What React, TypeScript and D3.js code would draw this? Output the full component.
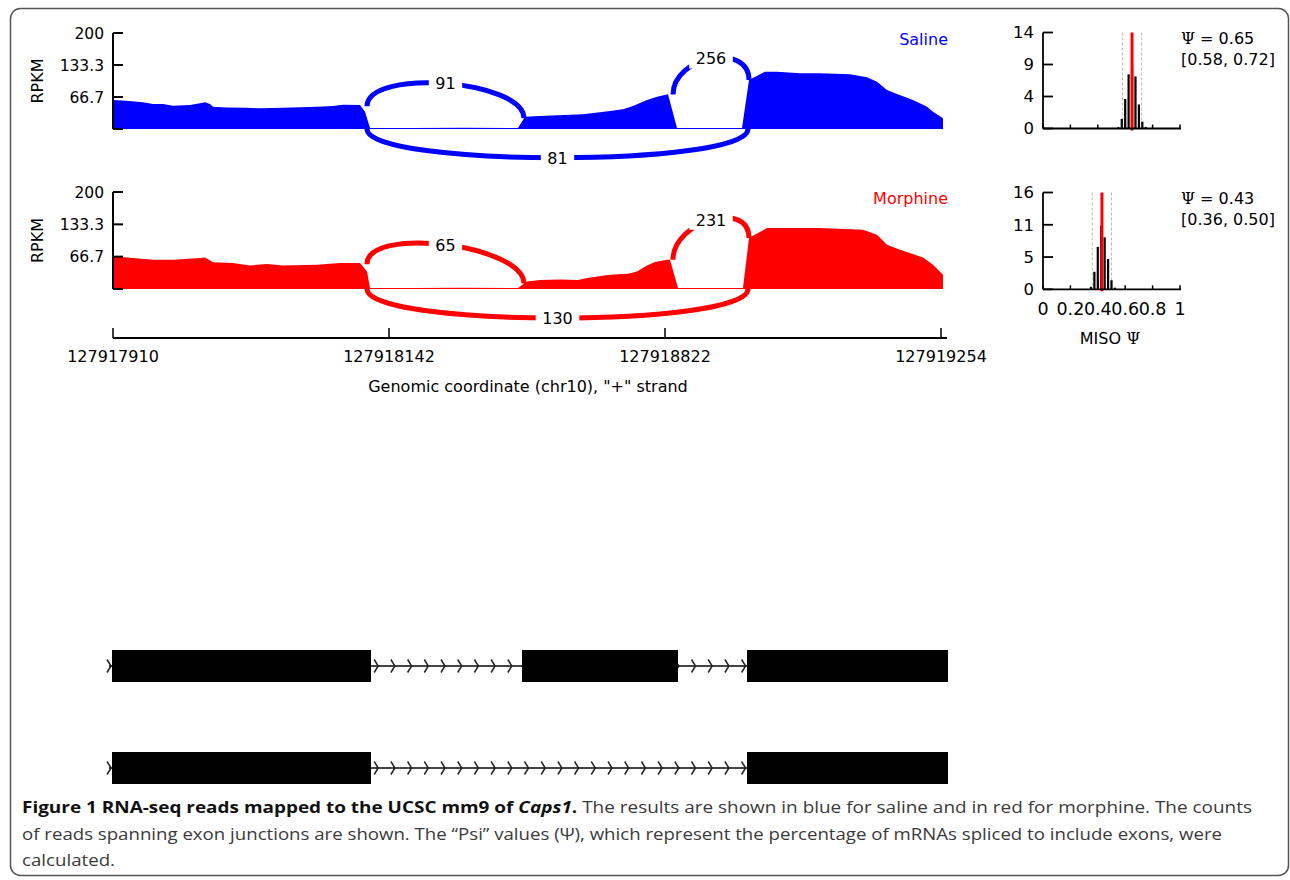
import React from 'react';
import * as d3 from 'd3';

const W = 1290;
const H = 880;
const blue = '#0000ff';
const red = '#ff0000';
const font = 'DejaVu Sans, sans-serif';

// x positions are on the compressed (intron-shrunk) axis, values in RPKM
const salineCoverage: [number, number][] = [
  [0, 60.4], [13, 59], [30, 55.6], [40, 52], [50, 52], [60, 48.5], [77, 50], [87, 53.5], [92, 55.6],
  [97, 52], [100, 46.5], [114, 45], [134, 44.4], [147, 43], [170, 44.4], [204, 46.5], [220, 48],
  [230, 50.6], [247, 50], [252, 36], [257, 2],
  [300, 2], [350, 2.5], [405, 2],
  [412, 25.6], [432, 27.8], [470, 30.6], [497, 37.5], [510, 41], [520, 48], [534, 60.4], [544, 67.3],
  [555, 72.3], [564, 2],
  [600, 2], [629, 2],
  [636, 102], [652, 119.4], [664, 119.4], [687, 116], [707, 116], [737, 114], [754, 107.7], [764, 98.5],
  [774, 81], [784, 73], [800, 60.4], [814, 46.5], [820, 36], [830, 22.3],
];

const morphineCoverage: [number, number][] = [
  [0, 67.3], [40, 60.4], [60, 60.4], [87, 63.9], [92, 65.2], [100, 54.9], [120, 53.6], [137, 48.7],
  [154, 51.5], [170, 48.7], [204, 50], [227, 53.6], [247, 53.6], [254, 36], [257, 2],
  [300, 2], [350, 2.5], [405, 2],
  [414, 15.7], [427, 18.6], [447, 19.8], [465, 18.6], [474, 22.7], [497, 29.5], [515, 31.5], [524, 36.3],
  [534, 48.7], [542, 55.7], [554, 60.4], [557, 60.4], [565, 2],
  [600, 2], [630, 2],
  [636, 105], [654, 125.8], [707, 125.8], [750, 122.3], [764, 112], [774, 91.3], [787, 81], [810, 65],
  [820, 50], [830, 29.5],
];

// junctions (even index drawn above, odd below)
const junctionStart = [254, 254, 560];
const junctionEnd = [411, 635, 636];
const salineReads = [91, 81, 256];
const morphineReads = [65, 130, 231];

const rpkmTicks = [0, 66.7, 133.3, 200];
const rpkmTickLabels = ['', '66.7', '133.3', '200'];

const axisTickPos = [0, 276, 552, 828];
const axisTickLabels = ['127917910', '127918142', '127918822', '127919254'];

// MISO posterior histograms
const salinePsiBins = [0.55, 0.575, 0.6, 0.625, 0.65, 0.675, 0.7, 0.725, 0.75];
const salinePsiCounts = [0.2, 1.4, 4.3, 7.9, 9.2, 7.6, 3.5, 1.0, 0.2];
const morphinePsiBins = [0.35, 0.375, 0.4, 0.425, 0.45, 0.475, 0.5, 0.525];
const morphinePsiCounts = [0.43, 2.9, 7.0, 10.5, 8.6, 5.0, 1.5, 0.27];
const psiMean = [0.65, 0.43];
const psiLow = [0.58, 0.36];
const psiHigh = [0.72, 0.5];
const histMax = [14, 16];
const histTickLabels = [['0', '4', '9', '14'], ['0', '5', '11', '16']];
const psiTicks = [0, 0.2, 0.4, 0.6, 0.8, 1];

// gene models
const isoform1Exons: [number, number][] = [[-1, 258], [409, 565], [634, 835]];
const isoform2Exons: [number, number][] = [[-1, 258], [634, 835]];

const x = d3.scaleLinear().domain([0, 830]).range([113, 943]);
const arcLift = 80; // RPKM

function covAt(cov: [number, number][], p: number) {
  const i = d3.bisector((d: [number, number]) => d[0]).left(cov, p);
  if (i <= 0) return cov[0][1];
  if (i >= cov.length) return cov[cov.length - 1][1];
  const a = cov[i - 1], b = cov[i];
  return a[1] + (b[1] - a[1]) * (p - a[0]) / (b[0] - a[0]);
}

function Sashimi({ cov, reads, color, name, top, bottom }) {
  const y = d3.scaleLinear().domain([0, 200]).range([bottom, top]);
  const area = d3.area<[number, number]>().x(d => x(d[0])).y0(y(0)).y1(d => y(d[1]));
  const h = y(0) - y(arcLift);
  const arcs = junctionStart.map((s, i) => {
    const e = junctionEnd[i];
    const x1 = x(s), x2 = x(e);
    const p = d3.path();
    let mid: [number, number];
    if (i % 2 === 0) {
      const y1 = y(covAt(cov, s - 6)), y2 = y(covAt(cov, e));
      p.moveTo(x1, y1);
      p.bezierCurveTo(x1, y1 - h, x2, y2 - h, x2, y2);
      mid = [(x1 + x2) / 2, (y1 + y2) / 2 - 0.75 * h];
    } else {
      const y0 = y(0);
      p.moveTo(x1, y0);
      p.bezierCurveTo(x1, y0 + h, x2, y0 + h, x2, y0);
      mid = [(x1 + x2) / 2, y0 + 0.75 * h];
    }
    return { d: p.toString(), mid, n: reads[i] };
  });
  return (
    <g fontFamily={font}>
      <path d={area(cov)} fill={color} />
      {arcs.map((a, i) => (
        <path key={i} d={a.d} fill="none" stroke={color} strokeWidth={5} />
      ))}
      {arcs.map((a, i) => {
        const w = String(a.n).length * 10.2 + 13;
        return (
          <g key={i}>
            <rect x={a.mid[0] - w / 2} y={a.mid[1] - 10} width={w} height={20} fill="#fff" />
            <text x={a.mid[0]} y={a.mid[1]} dy="0.36em" textAnchor="middle" fontSize={16}>{a.n}</text>
          </g>
        );
      })}
      <line x1={113} x2={113} y1={y(200)} y2={y(0)} stroke="#000" strokeWidth={2} />
      {rpkmTicks.map((t, i) => (
        <g key={i}>
          <line x1={113} x2={123} y1={y(t)} y2={y(t)} stroke="#000" strokeWidth={2} />
          <text x={104} y={y(t)} dy="0.36em" textAnchor="end" fontSize={15.5}>{rpkmTickLabels[i]}</text>
        </g>
      ))}
      <text transform={`translate(43,${(y(0) + y(200)) / 2}) rotate(-90)`} textAnchor="middle" fontSize={16}>RPKM</text>
      <text x={948} y={top + 12} textAnchor="end" fontSize={16} fill={color}>{name}</text>
    </g>
  );
}

function PsiHist({ bins, counts, k, top, bottom, showX }) {
  const hx = d3.scaleLinear().domain([0, 1]).range([1043, 1180]);
  const hy = d3.scaleLinear().domain([0, histMax[k]]).range([bottom, top]);
  const bw = (hx(0.025) - hx(0)) * 0.65;
  const yt = d3.range(4).map(i => (histMax[k] * i) / 3);
  return (
    <g fontFamily={font}>
      {[psiLow[k], psiHigh[k]].map((v, i) => (
        <line key={i} x1={hx(v)} x2={hx(v)} y1={top} y2={bottom} stroke="#bbb" strokeWidth={1} strokeDasharray="3,2" />
      ))}
      {bins.map((b, i) => (
        <rect key={i} x={hx(b) - bw / 2} y={hy(counts[i])} width={bw} height={hy(0) - hy(counts[i])} fill="#000" />
      ))}
      <line x1={hx(psiMean[k])} x2={hx(psiMean[k])} y1={top} y2={bottom + 2} stroke={red} strokeWidth={3} />
      <line x1={1043} x2={1043} y1={top} y2={bottom} stroke="#000" strokeWidth={1.8} />
      <line x1={1043} x2={1181} y1={bottom} y2={bottom} stroke="#000" strokeWidth={1.8} />
      {yt.map((t, i) => (
        <g key={i}>
          <line x1={1043} x2={1053} y1={hy(t)} y2={hy(t)} stroke="#000" strokeWidth={1.8} />
          <text x={1034} y={hy(t)} dy="0.36em" textAnchor="end" fontSize={16.5}>{histTickLabels[k][i]}</text>
        </g>
      ))}
      {psiTicks.map((t, i) => (
        <g key={i}>
          <line x1={hx(t)} x2={hx(t)} y1={bottom} y2={bottom - 4} stroke="#000" strokeWidth={1.5} />
          {showX && (
            <text x={hx(t)} y={bottom + 19} dy="0.36em" textAnchor="middle" fontSize={17.5}>{String(t)}</text>
          )}
        </g>
      ))}
      <text x={1181} y={top + 11} fontSize={16}>
        <tspan fontFamily="DejaVu Serif, serif">Ψ</tspan> = {psiMean[k].toFixed(2)}
      </text>
      <text x={1181} y={top + 32} fontSize={16}>
        [{psiLow[k].toFixed(2)}, {psiHigh[k].toFixed(2)}]
      </text>
      {showX && (
        <text x={1110} y={bottom + 49} dy="0.36em" textAnchor="middle" fontSize={16}>
          MISO <tspan fontFamily="DejaVu Serif, serif">Ψ</tspan>
        </text>
      )}
    </g>
  );
}

function GeneModel({ exons, cy }) {
  const chevrons = d3.range(-4, 835, 16.7);
  return (
    <g>
      <line x1={x(-4)} x2={x(835)} y1={cy} y2={cy} stroke="#444" strokeWidth={2} />
      {chevrons.map((c, i) => (
        <path key={i} d={`M${x(c) - 2},${cy - 6.5}L${x(c) + 2},${cy}L${x(c) - 2},${cy + 6.5}`} fill="none" stroke="#222" strokeWidth={1.5} />
      ))}
      {exons.map((e, i) => (
        <rect key={i} x={x(e[0])} y={cy - 16} width={x(e[1]) - x(e[0])} height={32} fill="#000" />
      ))}
    </g>
  );
}

export default function App() {
  const axisY = 338;
  return (
    <svg width={W} height={H} style={{ position: 'absolute', left: 0, top: 0 }}>
      <rect x={0} y={0} width={W} height={H} fill="#fff" />
      <rect x={10.5} y={8.5} width={1278} height={867} rx={10} fill="none" stroke="#555" strokeWidth={1.5} />

      <Sashimi cov={salineCoverage} reads={salineReads} color={blue} name="Saline" top={33} bottom={129} />
      <Sashimi cov={morphineCoverage} reads={morphineReads} color={red} name="Morphine" top={192} bottom={289} />

      <PsiHist bins={salinePsiBins} counts={salinePsiCounts} k={0} top={32.5} bottom={128.5} showX={false} />
      <PsiHist bins={morphinePsiBins} counts={morphinePsiCounts} k={1} top={192.5} bottom={289.3} showX={true} />

      <g fontFamily={font}>
        <line x1={x(0)} x2={x(834)} y1={axisY} y2={axisY} stroke="#000" strokeWidth={2} />
        {axisTickPos.map((t, i) => (
          <g key={i}>
            <line x1={x(t)} x2={x(t)} y1={axisY} y2={axisY - 10} stroke="#000" strokeWidth={1.5} />
            <text x={x(t)} y={axisY + 18} dy="0.36em" textAnchor="middle" fontSize={16}>{axisTickLabels[i]}</text>
          </g>
        ))}
        <text x={x(415)} y={axisY + 48} dy="0.36em" textAnchor="middle" fontSize={16}>
          Genomic coordinate (chr10), "+" strand
        </text>
      </g>

      <GeneModel exons={isoform1Exons} cy={666} />
      <GeneModel exons={isoform2Exons} cy={768} />

      <g fontFamily="Open Sans, sans-serif" fontSize={16.5} fill="#3a3a3a">
        <text x={22} y={813} textLength={1230} lengthAdjust="spacingAndGlyphs">
          <tspan fontWeight="bold" fill="#111">Figure 1 RNA-seq reads mapped to the UCSC mm9 of </tspan>
          <tspan fontWeight="bold" fontStyle="italic" fill="#111">Caps1</tspan>
          <tspan fontWeight="bold" fill="#111">.</tspan>
          <tspan> The results are shown in blue for saline and in red for morphine. The counts</tspan>
        </text>
        <text x={22} y={839.5} textLength={1200} lengthAdjust="spacingAndGlyphs">
          of reads spanning exon junctions are shown. The “Psi” values (Ψ), which represent the percentage of mRNAs spliced to include exons, were
        </text>
        <text x={22} y={866} textLength={93} lengthAdjust="spacingAndGlyphs">calculated.</text>
      </g>
    </svg>
  );
}
